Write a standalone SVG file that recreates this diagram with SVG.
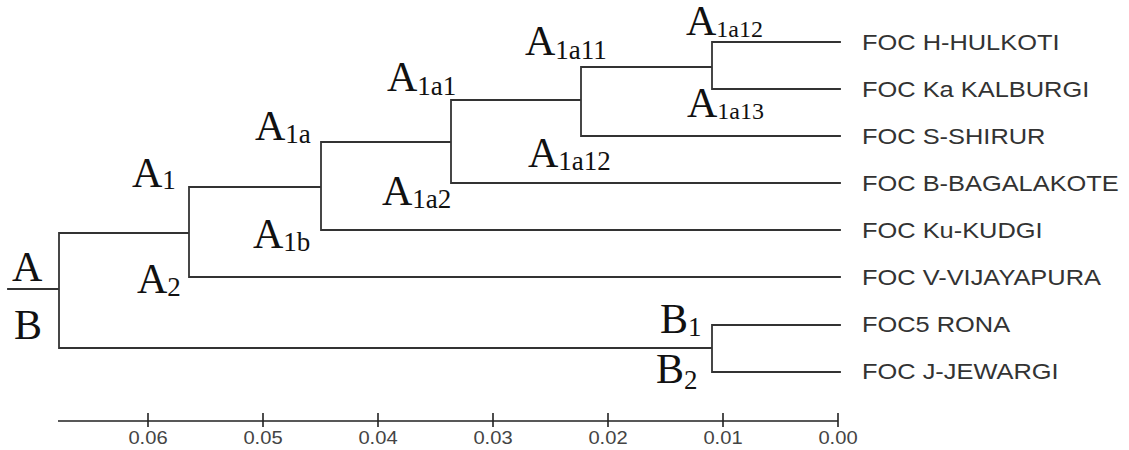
<svg xmlns="http://www.w3.org/2000/svg" width="1129" height="450" viewBox="0 0 1129 450">
<style>
.br{fill:none;stroke:#333;stroke-width:1.8;stroke-linecap:square}
.ax{fill:none;stroke:#222;stroke-width:1.6}
.nl{font-family:"Liberation Serif","Times New Roman",serif;font-size:42px;fill:#111}
.sb{font-size:27px}
.lf{font-family:"Liberation Sans",Arial,sans-serif;font-size:22px;fill:#333}
.tk{font-family:"Liberation Sans",Arial,sans-serif;font-size:18px;fill:#444;text-anchor:middle}
</style>
<rect width="1129" height="450" fill="#fff"/>
<g id="connectors">
<path class="br" d="M8 289H59M59 233V348M59 233H189M59 348H712M189 187V277M189 187H321M189 277H840M321 142V230M321 142H451M321 230H840M451 100V183M451 100H581M451 183H840M581 67V136M581 67H712M581 136H840M712 42V89M712 42H840M712 89H840M712 325V372M712 325H840M712 372H840"/>
</g>
<g id="node-A"><text class="nl" x="12" y="281">A</text></g>
<g id="node-B"><text class="nl" x="14" y="339">B</text></g>
<g id="node-A1"><text class="nl" x="132" y="187">A<tspan class="sb" dy="2">1</tspan></text></g>
<g id="node-A2"><text class="nl" x="137" y="293">A<tspan class="sb" dy="3">2</tspan></text></g>
<g id="node-A1a"><text class="nl" x="255" y="140">A<tspan class="sb" dy="3">1a</tspan></text></g>
<g id="node-A1b"><text class="nl" x="253" y="248">A<tspan class="sb" dy="3">1b</tspan></text></g>
<g id="node-A1a1"><text class="nl" x="387" y="91">A<tspan class="sb" dy="4">1a1</tspan></text></g>
<g id="node-A1a2"><text class="nl" x="382" y="205">A<tspan class="sb" dy="3">1a2</tspan></text></g>
<g id="node-A1a11"><text class="nl" x="525" y="55">A<tspan class="sb" dy="4">1a11</tspan></text></g>
<g id="node-A1a12-mid"><text class="nl" x="528" y="167">A<tspan class="sb" dy="3">1a12</tspan></text></g>
<g id="node-A1a12-top"><text class="nl" x="686" y="35" font-size="38">A<tspan font-size="24" dy="2">1a12</tspan></text></g>
<g id="node-A1a13"><text class="nl" x="687" y="117" font-size="38">A<tspan font-size="24" dy="2">1a13</tspan></text></g>
<g id="node-B1"><text class="nl" x="660" y="333">B<tspan class="sb" dy="3">1</tspan></text></g>
<g id="node-B2"><text class="nl" x="656" y="383">B<tspan class="sb" dy="6">2</tspan></text></g>
<g id="leaf-1"><text class="lf" transform="translate(862 50) scale(1.155 1)">FOC H-HULKOTI</text></g>
<g id="leaf-2"><text class="lf" transform="translate(862 97) scale(1.155 1)">FOC Ka KALBURGI</text></g>
<g id="leaf-3"><text class="lf" transform="translate(862 144) scale(1.155 1)">FOC S-SHIRUR</text></g>
<g id="leaf-4"><text class="lf" transform="translate(862 191) scale(1.155 1)">FOC B-BAGALAKOTE</text></g>
<g id="leaf-5"><text class="lf" transform="translate(862 238) scale(1.155 1)">FOC Ku-KUDGI</text></g>
<g id="leaf-6"><text class="lf" transform="translate(862 285) scale(1.155 1)">FOC V-VIJAYAPURA</text></g>
<g id="leaf-7"><text class="lf" transform="translate(862 332) scale(1.155 1)">FOC5 RONA</text></g>
<g id="leaf-8"><text class="lf" transform="translate(862 379) scale(1.155 1)">FOC J-JEWARGI</text></g>
<g id="axis">
<path class="ax" d="M58 421H838M148 413V427M263 413V427M378 413V427M493 413V427M608 413V427M723 413V427M838 413V427"/>
<text class="tk" transform="translate(148 444) scale(1.12 1)">0.06</text>
<text class="tk" transform="translate(263 444) scale(1.12 1)">0.05</text>
<text class="tk" transform="translate(378 444) scale(1.12 1)">0.04</text>
<text class="tk" transform="translate(493 444) scale(1.12 1)">0.03</text>
<text class="tk" transform="translate(608 444) scale(1.12 1)">0.02</text>
<text class="tk" transform="translate(723 444) scale(1.12 1)">0.01</text>
<text class="tk" transform="translate(838 444) scale(1.12 1)">0.00</text>
</g>
</svg>
